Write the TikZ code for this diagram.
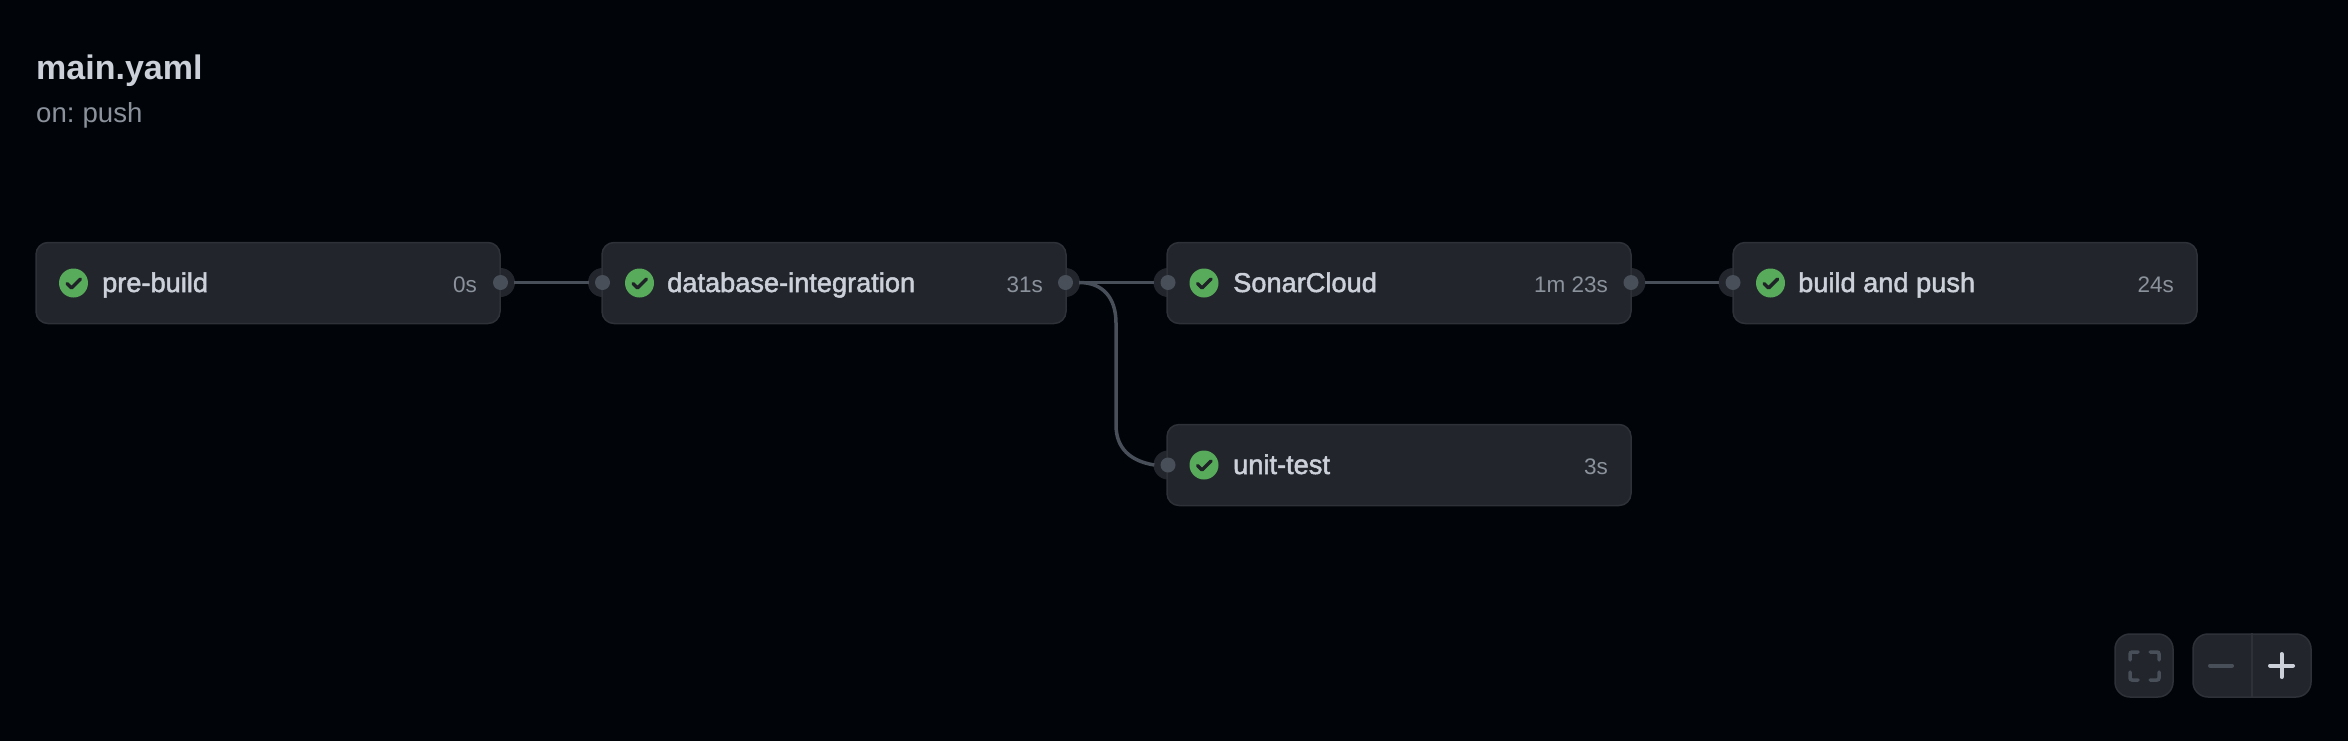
\documentclass[tikz,border=0pt]{standalone}
\usepackage{fontspec}
\setmainfont{Liberation Sans}
\newfontfamily\jobfont[FakeBold=1.8]{Liberation Sans}
\usetikzlibrary{positioning}
\definecolor{pagebg}{HTML}{010409}
\definecolor{boxbg}{HTML}{22252C}
\definecolor{boxline}{HTML}{2E3238}
\definecolor{halo}{HTML}{22252B}
\definecolor{wire}{HTML}{484F58}
\definecolor{okgreen}{HTML}{57AB5A}
\definecolor{okcheck}{HTML}{1F2328}
\definecolor{inktext}{HTML}{CBD0D9}
\definecolor{greytext}{HTML}{8B929B}
\tikzset{
  jobbox/.style={draw=boxline,line width=1.5pt,fill=boxbg,rounded corners=12pt,minimum width=464pt,minimum height=81pt,inner sep=0pt},
  porthalo/.style={circle,fill=halo,minimum size=29pt,inner sep=0pt},
  portdot/.style={circle,fill=wire,minimum size=15pt,inner sep=0pt},
  okicon/.style={circle,fill=okgreen,minimum size=29pt,inner sep=0pt,
    path picture={\draw[okcheck,line width=3.5pt,line cap=round,line join=round]
      ([shift={(-6.5,0.5)}]path picture bounding box.center) -- ++(4.5,4.5) -- ++(9,-9);}},
  jobname/.style={anchor=base west,inner sep=0pt,text=inktext,font=\jobfont\fontsize{27.2}{32}\selectfont},
  jobtime/.style={anchor=base east,inner sep=0pt,text=greytext,font=\fontsize{22.5}{28}\selectfont},
  link/.style={wire,line width=3.5pt},
  ctrlbox/.style={draw=boxline,line width=1.5pt,fill=boxbg,rounded corners=15pt,inner sep=0pt}
}

\begin{document}
\begin{tikzpicture}[x=1pt,y=-1pt]
  \useasboundingbox (0,0) rectangle (2348,740);
  \fill[pagebg] (-6,-6) rectangle (2354,746);

  % Title
  \node[anchor=base west,inner sep=0pt,text=inktext,font=\bfseries\fontsize{34}{38}\selectfont] (title) at (36,79.5) {main.yaml};
  \node[anchor=base west,inner sep=0pt,text=greytext,font=\fontsize{27.6}{32}\selectfont] (trigger) at (36,122) {\spaceskip=.2em\relax on: push};

  % Halos go under the boxes
  \node[porthalo] (prebuildout) at (500.5,282.5) {};
  \node[porthalo] (dbin) at (602.5,282.5) {};
  \node[porthalo] (dbout) at (1065.5,282.5) {};
  \node[porthalo] (sonarin) at (1168,282.5) {};
  \node[porthalo] (sonarout) at (1631,282.5) {};
  \node[porthalo] (buildin) at (1733,282.5) {};
  \node[porthalo] (unitin) at (1168,465) {};

  % pre-build
  \node[jobbox] (prebuild) at (268,283) {};
  \node[okicon] (prebuildok) at (73.5,283) {};
  \node[jobname] (prebuildname) at (102,292) {pre-build};
  \node[jobtime] (prebuildtime) at (477,292) {0s};

  % database-integration
  \node[jobbox] (db) at (834,283) {};
  \node[okicon] (dbok) at (639.5,283) {};
  \node[jobname] (dbname) at (667,292) {database-integration};
  \node[jobtime] (dbtime) at (1043,292) {31s};

  % SonarCloud
  \node[jobbox] (sonar) at (1399,283) {};
  \node[okicon] (sonarok) at (1204,283) {};
  \node[jobname] (sonarname) at (1233,292) {SonarCloud};
  \node[jobtime] (sonartime) at (1608,292) {1m 23s};

  % build and push
  \node[jobbox] (build) at (1965,283) {};
  \node[okicon] (buildok) at (1770.5,283) {};
  \node[jobname] (buildname) at (1798,292) {build and push};
  \node[jobtime] (buildtime) at (2174,292) {24s};

  % unit-test
  \node[jobbox] (unit) at (1399,465) {};
  \node[okicon] (unitok) at (1204,465) {};
  \node[jobname] (unitname) at (1233,474) {unit-test};
  \node[jobtime] (unittime) at (1608,474) {3s};

  % Port dots
  \node[portdot] (dot1) at (prebuildout) {};
  \node[portdot] (dot2) at (dbin) {};
  \node[portdot] (dot3) at (dbout) {};
  \node[portdot] (dot4) at (sonarin) {};
  \node[portdot] (dot5) at (sonarout) {};
  \node[portdot] (dot6) at (buildin) {};
  \node[portdot] (dot7) at (unitin) {};

  % Links
  \draw[link] ([xshift=-1]prebuildout.east) -- ([xshift=1]dbin.west);
  \draw[link] ([xshift=-1]dbout.east) -- ([xshift=1]sonarin.west);
  \draw[link] ([xshift=-1]sonarout.east) -- ([xshift=1]buildin.west);
  \draw[link] ([xshift=-1]dbout.east) .. controls (1103,282.5) and (1116,298) .. (1116,323)
    -- (1116,425) .. controls (1116,448) and (1130,461) .. ([xshift=1]unitin.west);

  % View controls
  \node[ctrlbox,minimum width=58pt,minimum height=63pt] (fitbtn) at (2144,665.5) {};
  \draw[wire,line width=3.5pt,line cap=round,rounded corners=2pt]
    (2130,660) -- (2130,652) -- (2138,652)
    (2150,652) -- (2159,652) -- (2159,660)
    (2159,672) -- (2159,680) -- (2150,680)
    (2138,680) -- (2130,680) -- (2130,672);
  \node[ctrlbox,minimum width=118pt,minimum height=63pt] (zoombtn) at (2252,665.5) {};
  \coordinate (divtop) at (zoombtn.north);
  \coordinate (divbot) at (zoombtn.south);
  \draw[boxline,line width=1.5pt] (divtop) -- (divbot);
  \draw[wire,line width=4pt,line cap=round] (2210,665.5) -- (2232,665.5);
  \draw[inktext,line width=4pt,line cap=round] (2270,665.5) -- (2293,665.5) (2281.5,654) -- (2281.5,677);
\end{tikzpicture}
\end{document}
